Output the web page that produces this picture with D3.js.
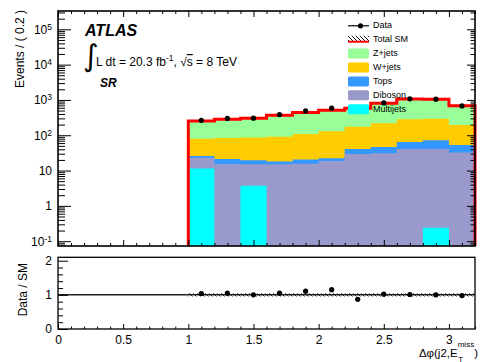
<!DOCTYPE html>
<html>
<head>
<meta charset="utf-8">
<script src="https://cdn.jsdelivr.net/npm/d3@7"></script>
<style>
  html, body { margin: 0; padding: 0; background: #fff; }
  svg { display: block; font-family: "Liberation Sans", Arial, Helvetica, sans-serif; }
</style>
</head>
<body>
<svg id="chart" width="486" height="362"></svg>
<script>
// Δφ(j2, E_T^miss) bins, width 0.2
const binCenters = [1.1, 1.3, 1.5, 1.7, 1.9, 2.1, 2.3, 2.5, 2.7, 2.9, 3.1];
const binWidth = 0.2;

// Observed events per bin
const dataCounts = [265, 300, 305, 386, 488, 587, 505, 821, 1078, 1050, 675];

// Background expectations (events per bin)
const multijets = [11.4, 0, 3.7, 0, 0, 0, 0, 0, 0, 0.24, 0];
const diboson   = [11.8, 15.4, 11.4, 15.1, 15.7, 18.7, 29.6, 31, 41, 40.8, 32.2];
const tops      = [2.7, 6.0, 4.5, 2.8, 4.7, 3.7, 11.4, 15.7, 23.7, 31.3, 21];
const wjets     = [54, 61.6, 66.4, 73.1, 88.6, 107.6, 134, 172, 219, 223, 143];
const zjets     = [175, 203, 219, 277, 331, 380, 406, 586, 783, 755, 493];

// Relative uncertainty on the total SM prediction
const smRelUnc = [0.05, 0.05, 0.05, 0.05, 0.05, 0.05, 0.05, 0.05, 0.05, 0.05, 0.05];

// Axis tick labels
const xTickLabels = ["0", "0.5", "1", "1.5", "2", "2.5", "3"];
const yMajorExp = [-1, 0, 1, 2, 3, 4, 5];
const ratioTickLabels = ["0", "1", "2"];

// Stack order: bottom to top
const layers = [
  { name: "Multijets", values: multijets, color: "#00ffff" },
  { name: "Diboson",   values: diboson,   color: "#9999cc" },
  { name: "Tops",      values: tops,      color: "#3399ff" },
  { name: "W+jets",    values: wjets,     color: "#ffcc00" },
  { name: "Z+jets",    values: zjets,     color: "#99ff99" }
];

const svg = d3.select("#chart");

// Pad geometry
const L = 58, R = 475;
const mainTop = 11, mainBot = 246;
const ratTop = 257.3, ratBot = 329;

const x = d3.scaleLinear().domain([0, 3.2]).range([L, R]);
const yMin = 0.073, yMax = 3.3e5;
const y = d3.scaleLog().domain([yMin, yMax]).range([mainBot, mainTop]).clamp(true);
const yr = d3.scaleLinear().domain([0, 2.1]).range([ratBot, ratTop]);

const n = binCenters.length;
const edges = binCenters.map(c => c - binWidth / 2).concat([binCenters[n - 1] + binWidth / 2]);

// cumulative sums
const cumul = [];
let running = new Array(n).fill(0);
layers.forEach(l => {
  running = running.map((v, i) => v + l.values[i]);
  cumul.push(running.slice());
});
const total = cumul[cumul.length - 1];

// hatch pattern
const defs = svg.append("defs");
const pat = defs.append("pattern").attr("id", "hatch")
  .attr("patternUnits", "userSpaceOnUse").attr("width", 4).attr("height", 4);
pat.append("path").attr("d", "M-1,-1 L5,5 M-1,3 L1,5 M3,-1 L5,1")
  .attr("stroke", "#000").attr("stroke-width", 0.9);

defs.append("clipPath").attr("id", "clipMain").append("rect")
  .attr("x", L).attr("y", mainTop).attr("width", R - L).attr("height", mainBot - mainTop);

const stepPts = vals => {
  const pts = vals.map((v, i) => ({ x: edges[i], v }));
  pts.push({ x: edges[n], v: vals[n - 1] });
  return pts;
};

const safe = v => Math.max(v, yMin);
const area = d3.area().curve(d3.curveStepAfter)
  .x(d => x(d.x)).y0(mainBot).y1(d => y(safe(d.v)));

const gMain = svg.append("g").attr("clip-path", "url(#clipMain)");

// Draw cumulative stack from the top layer down so lower layers overlay
for (let k = layers.length - 1; k >= 0; k--) {
  gMain.append("path").datum(stepPts(cumul[k]))
    .attr("d", area).attr("fill", layers[k].color);
}

// Total SM outline
const line = d3.line().curve(d3.curveStepAfter).x(d => x(d.x)).y(d => y(safe(d.v)));
const outlinePts = stepPts(total);
const outlinePath = "M" + x(edges[0]) + "," + mainBot + "L" + line(outlinePts).slice(1) +
  "L" + x(edges[n]) + "," + mainBot;
svg.append("path").attr("d", outlinePath).attr("fill", "none")
  .attr("stroke", "#ff0000").attr("stroke-width", 3);

// Uncertainty band on total
gMain.selectAll("rect.band").data(total).join("rect")
  .attr("x", (d, i) => x(edges[i])).attr("width", (d, i) => x(edges[i + 1]) - x(edges[i]))
  .attr("y", (d, i) => y(d * (1 + smRelUnc[i])))
  .attr("height", (d, i) => y(d * (1 - smRelUnc[i])) - y(d * (1 + smRelUnc[i])))
  .attr("fill", "url(#hatch)");

// Data points
const gData = svg.append("g");
binCenters.forEach((c, i) => {
  const v = dataCounts[i], e = Math.sqrt(v);
  gData.append("line").attr("x1", x(c)).attr("x2", x(c))
    .attr("y1", y(v - e)).attr("y2", y(v + e)).attr("stroke", "#000").attr("stroke-width", 1);
  gData.append("circle").attr("cx", x(c)).attr("cy", y(v)).attr("r", 2.6).attr("fill", "#000");
});

// ---- Axes of the main pad ----
const majorX = d3.range(0, 3.21, 0.5);
const minorX = d3.range(0, 3.21, 0.1).filter(v => Math.abs(v * 2 - Math.round(v * 2)) > 1e-6);
const majorY = yMajorExp.map(e => Math.pow(10, e));
const minorY = [];
for (let e = -2; e <= 5; e++) for (let m = 2; m <= 9; m++) {
  const v = m * Math.pow(10, e);
  if (v >= yMin && v <= yMax) minorY.push(v);
}

const addAxis = (axis, tx, ty) => {
  const g = svg.append("g").attr("transform", `translate(${tx},${ty})`).call(axis);
  g.select(".domain").remove();
  g.selectAll(".tick line").attr("stroke", "#000").attr("stroke-width", 1);
  return g;
};

// left log axis with labels
const gy = addAxis(d3.axisLeft(y).tickValues(majorY).tickSize(-13).tickPadding(6).tickFormat(() => ""), L, 0);
gy.selectAll(".tick text").each(function (d) {
  const t = d3.select(this).attr("font-size", 12).attr("fill", "#000")
    .attr("font-family", "Liberation Sans, Arial, sans-serif");
  const e = Math.round(Math.log10(d));
  if (e === 0) t.text("1");
  else if (e === 1) t.text("10");
  else {
    t.append("tspan").text("10");
    t.append("tspan").attr("dy", "-0.45em").attr("font-size", 8.5).text(String(e));
  }
});
addAxis(d3.axisLeft(y).tickValues(minorY).tickSize(-7).tickFormat(() => ""), L, 0);
addAxis(d3.axisRight(y).tickValues(majorY).tickSize(-8).tickFormat(() => ""), R, 0);
addAxis(d3.axisRight(y).tickValues(minorY).tickSize(-4.5).tickFormat(() => ""), R, 0);
addAxis(d3.axisBottom(x).tickValues(majorX).tickSize(-6).tickFormat(() => ""), 0, mainBot);
addAxis(d3.axisBottom(x).tickValues(minorX).tickSize(-3).tickFormat(() => ""), 0, mainBot);
addAxis(d3.axisTop(x).tickValues(majorX).tickSize(-6).tickFormat(() => ""), 0, mainTop);
addAxis(d3.axisTop(x).tickValues(minorX).tickSize(-3).tickFormat(() => ""), 0, mainTop);

svg.append("rect").attr("x", L).attr("y", mainTop).attr("width", R - L).attr("height", mainBot - mainTop)
  .attr("fill", "none").attr("stroke", "#000").attr("stroke-width", 1.6);

// Y title
svg.append("text").attr("transform", `translate(23.5,${mainTop - 1}) rotate(-90)`)
  .attr("text-anchor", "end").attr("font-size", 12).text("Events / ( 0.2 )");

// ---- Ratio pad ----
const ratio = dataCounts.map((d, i) => d / total[i]);

svg.append("line").attr("x1", L).attr("x2", R).attr("y1", yr(1)).attr("y2", yr(1))
  .attr("stroke", "#222").attr("stroke-width", 1.5);

svg.selectAll("rect.rband").data(total).join("rect")
  .attr("x", (d, i) => x(edges[i])).attr("width", (d, i) => x(edges[i + 1]) - x(edges[i]))
  .attr("y", (d, i) => yr(1 + smRelUnc[i]))
  .attr("height", (d, i) => yr(1 - smRelUnc[i]) - yr(1 + smRelUnc[i]))
  .attr("fill", "url(#hatch)").attr("opacity", 0.8);

binCenters.forEach((c, i) => {
  const r = ratio[i], e = Math.sqrt(dataCounts[i]) / total[i];
  svg.append("line").attr("x1", x(c)).attr("x2", x(c))
    .attr("y1", yr(r - e)).attr("y2", yr(r + e)).attr("stroke", "#000").attr("stroke-width", 1);
  svg.append("circle").attr("cx", x(c)).attr("cy", yr(r)).attr("r", 2.6).attr("fill", "#000");
});

const gxr = addAxis(d3.axisBottom(x).tickValues(majorX).tickSize(-5).tickPadding(6)
  .tickFormat((d, i) => xTickLabels[i]), 0, ratBot);
gxr.selectAll(".tick text").attr("font-size", 12).attr("fill", "#000")
  .attr("font-family", "Liberation Sans, Arial, sans-serif");
addAxis(d3.axisBottom(x).tickValues(minorX).tickSize(-2.5).tickFormat(() => ""), 0, ratBot);

const gyr = addAxis(d3.axisLeft(yr).tickValues([0, 1, 2]).tickSize(-10).tickPadding(6)
  .tickFormat((d, i) => ratioTickLabels[i]), L, 0);
gyr.selectAll(".tick text").attr("font-size", 12).attr("fill", "#000")
  .attr("font-family", "Liberation Sans, Arial, sans-serif");
addAxis(d3.axisLeft(yr).tickValues(d3.range(0.2, 2.05, 0.2).filter(v => Math.abs(v - 1) > 1e-6 && Math.abs(v - 2) > 1e-6))
  .tickSize(-5).tickFormat(() => ""), L, 0);

svg.append("rect").attr("x", L).attr("y", ratTop).attr("width", R - L).attr("height", ratBot - ratTop)
  .attr("fill", "none").attr("stroke", "#000").attr("stroke-width", 1.3);

svg.append("text").attr("transform", `translate(27,263) rotate(-90)`)
  .attr("text-anchor", "end").attr("font-size", 12).text("Data / SM");

// X title: Δφ(j2, E_T^miss)
const xt = svg.append("text").attr("x", 478).attr("y", 356.5).attr("text-anchor", "end").attr("font-size", 11.5);
xt.append("tspan").text("Δφ(j2,E");
xt.append("tspan").attr("font-size", 8).attr("dy", -10).text("miss");
xt.append("tspan").attr("dy", 10).text(")");
const supBox = xt.selectAll("tspan").nodes()[1].getBBox();
svg.append("text").attr("x", supBox.x + 0.5).attr("y", 361.5).attr("font-size", 8).text("T");

// ---- Labels ----
svg.append("text").attr("x", 85).attr("y", 36).attr("font-size", 16)
  .attr("font-weight", "bold").attr("font-style", "italic").text("ATLAS");

svg.append("text").attr("x", 83).attr("y", 66).attr("font-size", 30)
  .attr("font-family", "DejaVu Sans, sans-serif").text("∫");
const lumi = svg.append("text").attr("x", 96).attr("y", 66).attr("font-size", 12);
lumi.append("tspan").text("L dt = 20.3 fb");
lumi.append("tspan").attr("dy", -5).attr("font-size", 8.5).text("-1");
lumi.append("tspan").attr("dy", 5).text(", √");
lumi.append("tspan").attr("text-decoration", "overline").text("s");
lumi.append("tspan").text(" = 8 TeV");

svg.append("text").attr("x", 100).attr("y", 87).attr("font-size", 12)
  .attr("font-weight", "bold").attr("font-style", "italic").text("SR");

// ---- Legend ----
const legX = 348, legW = 21, legText = 373, legY0 = 28.3, legDy = 13.9;
const lg = svg.append("g").attr("font-size", 9);
const legendEntries = [{ name: "Data", kind: "data" }, { name: "Total SM", kind: "sm" }]
  .concat(layers.slice().reverse().map(l => ({ name: l.name, kind: "fill", color: l.color })));
legendEntries.forEach((e, i) => {
  const by = legY0 + i * legDy;
  const cy = by - 2.5;
  if (e.kind === "data") {
    lg.append("line").attr("x1", legX).attr("x2", legX + legW).attr("y1", cy).attr("y2", cy)
      .attr("stroke", "#000").attr("stroke-width", 1.2);
    lg.append("circle").attr("cx", legX + legW / 2 + 2).attr("cy", cy).attr("r", 2.6).attr("fill", "#000");
  } else if (e.kind === "sm") {
    lg.append("rect").attr("x", legX).attr("y", cy - 4).attr("width", legW).attr("height", 6)
      .attr("fill", "url(#hatch)");
    lg.append("line").attr("x1", legX).attr("x2", legX + legW).attr("y1", cy + 2).attr("y2", cy + 2)
      .attr("stroke", "#ff0000").attr("stroke-width", 2);
  } else {
    lg.append("rect").attr("x", legX).attr("y", cy - 5).attr("width", legW).attr("height", 10)
      .attr("rx", 1.5).attr("fill", e.color);
  }
  lg.append("text").attr("x", legText).attr("y", by).text(e.name);
});
</script>
</body>
</html>
